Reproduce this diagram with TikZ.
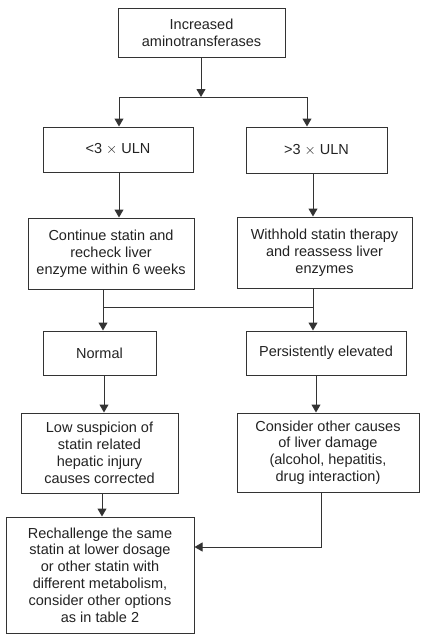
\documentclass[tikz,border=0pt]{standalone}
\usepackage{fontspec}
\setmainfont{Liberation Sans}
\usetikzlibrary{arrows.meta}
\definecolor{ln}{HTML}{333333}
\definecolor{tx}{HTML}{222222}
\tikzset{
  box/.style={draw=ln, line width=1pt, rectangle, align=center, inner sep=2pt,
    font=\fontsize{14.5}{16.8}\selectfont, text=tx},
  arr/.style={draw=ln, line width=1pt, -{Triangle[width=9pt,length=8pt]}},
  ln/.style={draw=ln, line width=1pt}
}
\begin{document}
\begin{tikzpicture}[x=1pt,y=-1pt]
\useasboundingbox (0,0) rectangle (424,640);
\node[box, minimum width=167pt, minimum height=49pt] (n1) at (201.5,32.5) {Increased\\aminotransferases};
\node[box, minimum width=150pt, minimum height=45pt] (n2) at (118,149.5) {<3 $\times$ ULN};
\node[box, minimum width=141pt, minimum height=46pt] (n3) at (316.5,150) {>3 $\times$ ULN};
\node[box, minimum width=166pt, minimum height=71pt] (n4) at (111,253.5) {Continue statin and\\recheck liver\\enzyme within 6 weeks};
\node[box, minimum width=175pt, minimum height=71pt] (n5) at (324.5,252.5) {Withhold statin therapy\\and reassess liver\\enzymes};
\node[box, minimum width=113pt, minimum height=44pt] (n6) at (99.5,353) {Normal};
\node[box, minimum width=160pt, minimum height=44pt] (n7) at (326,353) {Persistently elevated};
\node[box, minimum width=157pt, minimum height=80pt] (n8) at (99.5,453) {Low suspicion of\\statin related\\hepatic injury\\causes corrected};
\node[box, minimum width=182pt, minimum height=79pt] (n9) at (328,452.5) {Consider other causes\\of liver damage\\(alcohol, hepatitis,\\drug interaction)};
\node[box, minimum width=188pt, minimum height=116pt] (n10) at (100,575) {Rechallenge the same\\statin at lower dosage\\or other statin with\\different metabolism,\\consider other options\\as in table 2};
% split 1
\coordinate (j1) at (201,97);
\coordinate (l1) at (119,97);
\coordinate (r1) at (307,97);
\draw[arr] (j1 |- n1.south) -- (j1);
\draw[ln] (l1) -- (r1);
\draw[arr] (l1) -- (l1 |- n2.north);
\draw[arr] (r1) -- (r1 |- n3.north);
% second level
\coordinate (a2) at (119,172);
\coordinate (a3) at (313,173);
\draw[arr] (a2) -- (a2 |- n4.north);
\draw[arr] (a3) -- (a3 |- n5.north);
% merge
\coordinate (b4) at (103,289);
\coordinate (b5) at (313,288);
\coordinate (m4) at (103,307);
\coordinate (m5) at (313,307);
\draw[ln] (b4) -- (m4) -- (m5);
\draw[ln] (b5) -- (m5);
\draw[arr] (m4) -- (m4 |- n6.north);
\draw[arr] (m5) -- (m5 |- n7.north);
% next
\coordinate (c6) at (104,375);
\coordinate (c7) at (316,375);
\draw[arr] (c6) -- (c6 |- n8.north);
\draw[arr] (c7) -- (c7 |- n9.north);
\coordinate (d8) at (102,493);
\draw[arr] (d8) -- (d8 |- n10.north);
\coordinate (d9) at (321,492);
\coordinate (e9) at (321,547);
\draw[arr] (d9) -- (e9) -- (e9 -| n10.east);
\end{tikzpicture}
\end{document}
